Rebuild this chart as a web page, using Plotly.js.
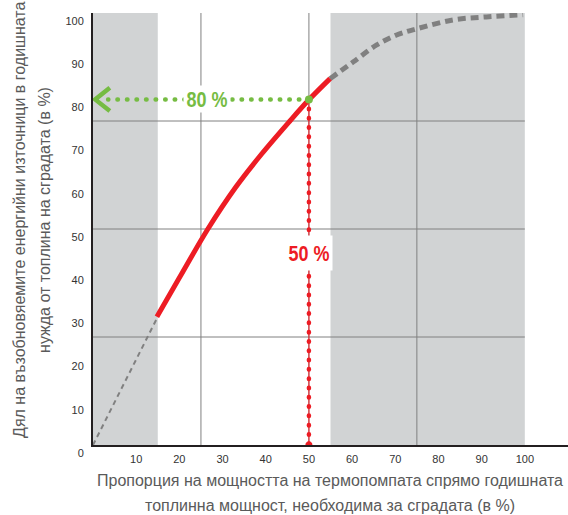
<!DOCTYPE html>
<html>
<head>
<meta charset="utf-8">
<script src="https://cdn.plot.ly/plotly-3.0.1.min.js"></script>
<style>html,body{margin:0;padding:0;background:#fff;}#chart{width:568px;height:515px;}</style>
</head>
<body>
<div id="chart"></div>
<script>
// ---- data ----
const xTickVals = [10, 20, 30, 40, 50, 60, 70, 80, 90, 100];
const yTickVals = [0, 10, 20, 30, 40, 50, 60, 70, 80, 90, 100];
const gridVals = [25, 50, 75];
const shadeStart = [0, 55];
const shadeEnd = [15, 100];

const lowX = [0, 15];
const lowY = [0, 29.7];
const redX = [14.8, 20, 26.6, 33, 39, 45.6, 50, 54.9];
const redY = [29.7, 38.7, 50, 59.6, 67.3, 75, 79.9, 84.8];
const highX = [54.9, 60.3, 65.7, 70.3, 74.8, 83.4, 91.1, 99.6];
const highY = [84.8, 88.7, 92.6, 94.9, 96.3, 98.4, 99.1, 99.6];

const markX = 50;      // heat pump share
const markY = 80;      // renewable share
const arrowX = 0.5;
const greenStartX = 3.5;
const label80 = "80 %";
const label50 = "50 %";
const label80X = 26.4;
const label50Y = 44.4;

const xTitle1 = "Пропорция на мощността на термопомпата спрямо годишната";
const xTitle2 = "топлинна мощност, необходима за сградата (в %)";
const yTitle1 = "Дял на възобновяемите енергийни източници в годишната";
const yTitle2 = "нужда от топлина на сградата (в %)";

// ---- styles ----
const RED = "#ed1c24";
const GREEN = "#76bc43";
const GREY = "#808080";
const SHADE = "#d1d3d4";
const TXT = "#5a5a5a";
const SANS = "Liberation Sans, Arial, sans-serif";
const CHEV_DX = 3.4;   // chevron arm length (x units)
const CHEV_DY = 2.7;   // chevron half height (y units)

const traces = [
  {x: lowX, y: lowY, mode: "lines", line: {color: GREY, width: 2, dash: "5px,4px"}, hoverinfo: "skip"},
  {x: highX, y: highY, mode: "lines", line: {color: GREY, width: 5, dash: "8px,5px", shape: "spline"}, hoverinfo: "skip"},
  {x: redX, y: redY, mode: "lines", line: {color: RED, width: 5, shape: "spline"}, hoverinfo: "skip"},
  {x: [markX, greenStartX], y: [markY, markY], mode: "lines", line: {color: GREEN, width: 4.5, dash: "0.5px,9.05px"}, hoverinfo: "skip"},
  {x: [markX, markX], y: [markY, 0], mode: "lines", line: {color: RED, width: 1}, hoverinfo: "skip"},
  {x: [markX, markX], y: [markY, 0], mode: "lines", line: {color: RED, width: 4.5, dash: "0.5px,8.8px"}, hoverinfo: "skip"},
  {x: [markX], y: [0], mode: "markers", marker: {color: RED, size: 7}, hoverinfo: "skip"},
  {x: [markX], y: [markY], mode: "markers", marker: {color: GREEN, size: 8}, hoverinfo: "skip"},
  {x: [arrowX + CHEV_DX, arrowX, arrowX + CHEV_DX], y: [markY + CHEV_DY, markY, markY - CHEV_DY],
   mode: "lines", line: {color: GREEN, width: 4.5}, hoverinfo: "skip"}
];

const shapes = [];
shadeStart.forEach((s, i) => {
  shapes.push({type: "rect", layer: "below", xref: "x", yref: "y", x0: s, x1: shadeEnd[i], y0: 0, y1: 100,
               fillcolor: SHADE, line: {width: 0}});
});
gridVals.forEach(v => {
  shapes.push({type: "line", layer: "below", xref: "x", yref: "y", x0: v, x1: v, y0: 0, y1: 100, line: {color: GREY, width: 1}});
  shapes.push({type: "line", layer: "below", xref: "x", yref: "y", x0: 0, x1: 100, y0: v, y1: v, line: {color: GREY, width: 1}});
});

const titleFont = {family: SANS, size: 16, color: TXT};
const annotations = [
  {x: label80X, y: markY, xref: "x", yref: "y", text: label80, showarrow: false, bgcolor: "#ffffff",
   width: 46, height: 26, borderpad: 0, font: {family: SANS, size: 22, color: GREEN, weight: "bold"}},
  {x: markX, y: label50Y, xref: "x", yref: "y", text: label50, showarrow: false, bgcolor: "#ffffff",
   width: 46, height: 34, borderpad: 0, font: {family: SANS, size: 22, color: RED, weight: "bold"}},
  {xref: "paper", yref: "paper", x: 0.499, y: -0.0833, text: xTitle1, showarrow: false, xanchor: "center", yanchor: "middle", font: titleFont},
  {xref: "paper", yref: "paper", x: 0.499, y: -0.141, text: xTitle2, showarrow: false, xanchor: "center", yanchor: "middle", font: titleFont},
  {xref: "paper", yref: "paper", x: -0.1537, y: 0.521, text: yTitle1, showarrow: false, textangle: -90, xanchor: "center", yanchor: "middle", font: titleFont},
  {xref: "paper", yref: "paper", x: -0.101, y: 0.521, text: yTitle2, showarrow: false, textangle: -90, xanchor: "center", yanchor: "middle", font: titleFont}
];

const tickFont = {family: SANS, size: 11, color: "#333333"};
const layout = {
  width: 568, height: 515,
  margin: {l: 93, r: 0, t: 13, b: 70, pad: 0},
  paper_bgcolor: "#ffffff", plot_bgcolor: "#ffffff",
  showlegend: false,
  xaxis: {range: [0, 110], showgrid: false, zeroline: false, showline: true, linecolor: "#231f20", linewidth: 2,
          tickmode: "array", tickvals: xTickVals, ticktext: xTickVals.map(String), ticks: "", tickfont: tickFont,
          ticklabelstandoff: 3, fixedrange: true},
  yaxis: {range: [0, 100], showgrid: false, zeroline: false, showline: true, linecolor: "#231f20", linewidth: 2,
          tickmode: "array", tickvals: yTickVals, ticktext: yTickVals.map(String), ticks: "", tickfont: tickFont,
          ticklabelstandoff: 5, ticklabelshift: 8, fixedrange: true},
  shapes: shapes,
  annotations: annotations
};

Plotly.newPlot("chart", traces, layout, {staticPlot: true, displayModeBar: false}).then(() => {
  const tr = document.querySelectorAll("#chart .scatterlayer .trace");
  [3, 5].forEach(i => {
    const p = tr[i] && tr[i].querySelector("path.js-line");
    if (p) p.style.strokeLinecap = "round";
  });
  // condense the bold callout labels to mimic the narrow face of the original
  document.querySelectorAll("#chart .annotation-text").forEach(t => {
    const s = t.textContent;
    if (s === label80 || s === label50) {
      t.setAttribute("textLength", "41");
      t.setAttribute("lengthAdjust", "spacingAndGlyphs");
    }
  });
});
</script>
</body>
</html>
